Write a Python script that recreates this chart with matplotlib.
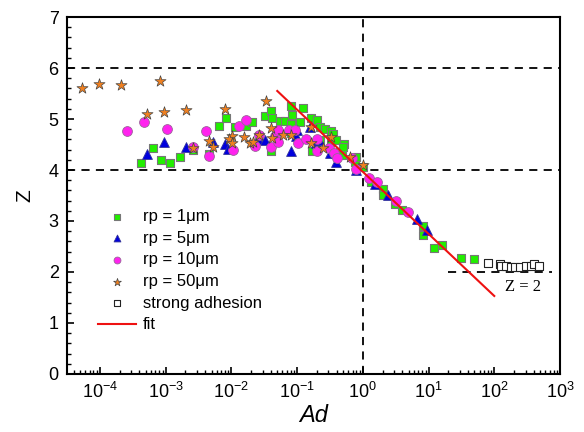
import matplotlib.pyplot as plt
import numpy as np

plt.rcParams['font.family'] = ['Liberation Sans', 'DejaVu Sans']
plt.rcParams['mathtext.fontset'] = 'custom'
plt.rcParams['mathtext.rm'] = 'Liberation Sans'
plt.rcParams['mathtext.it'] = 'Liberation Sans:italic'

# log10(Ad) and Z for each series
lg_1um = [-3.38, -3.19, -3.07, -2.93, -2.78, -2.59, -2.34, -2.19, -2.08, -1.95, -1.78, -1.68,
          -1.58, -1.49, -1.39, -1.38, -1.39, -1.26, -1.19, -1.09, -1.08, -1.09, -1.09, -0.95,
          -0.91, -0.79, -0.78, -0.70, -0.65, -0.58, -0.49, -0.45, -0.65, -0.48, -0.41, -0.29,
          -0.30, -0.32, -0.12, -0.10, 0.00, 0.13, 0.30, 0.31, 0.49, 0.60, 0.91, 0.91, 1.08,
          1.20, 1.50, 1.69]
z_1um = [4.13, 4.44, 4.20, 4.14, 4.25, 4.39, 4.32, 4.87, 5.01, 4.85, 4.86, 4.94,
         4.67, 5.06, 5.16, 5.01, 4.38, 4.97, 4.97, 5.25, 5.08, 4.90, 4.72, 4.95,
         5.22, 5.01, 4.37, 4.99, 4.85, 4.80, 4.76, 4.71, 4.59, 4.55, 4.59, 4.51,
         4.46, 4.29, 4.16, 4.26, 4.06, 3.77, 3.62, 3.51, 3.33, 3.22, 2.90, 2.72, 2.48,
         2.53, 2.28, 2.25]

lg_5um = [-3.28, -3.03, -2.69, -2.28, -2.09, -2.05, -1.59, -1.49, -1.34, -1.09, -1.00, -1.02,
          -0.81, -0.71, -0.66, -0.50, -0.40, -0.40, -0.11, 0.18, 0.39, 0.82, 0.98]
z_5um = [4.31, 4.54, 4.45, 4.54, 4.51, 4.41, 4.60, 4.59, 4.69, 4.38, 4.78, 4.66,
         4.85, 4.52, 4.59, 4.33, 4.34, 4.16, 4.00, 3.72, 3.51, 3.03, 2.82]

lg_10um = [-3.58, -3.33, -2.98, -2.58, -2.39, -2.34, -1.98, -1.88, -1.78, -1.64, -1.58, -1.39,
           -1.34, -1.29, -1.29, -1.12, -1.03, -0.99, -0.87, -0.69, -0.69, -0.51, -0.44, -0.39,
           -0.17, -0.10, 0.10, 0.21, 0.51, 0.69]
z_10um = [4.77, 4.95, 4.81, 4.46, 4.77, 4.28, 4.40, 4.86, 4.98, 4.47, 4.69, 4.46,
          4.67, 4.79, 4.55, 4.79, 4.78, 4.52, 4.61, 4.61, 4.38, 4.44, 4.33, 4.23,
          4.23, 4.01, 3.84, 3.77, 3.40, 3.18]

lg_50um = [-4.27, -4.02, -3.68, -3.08, -3.28, -3.03, -2.69, -2.09, -1.48, -2.59, -2.34, -2.28,
           -1.99, -2.04, -1.99, -1.81, -1.72, -1.67, -1.58, -1.39, -1.38, -1.21, -1.09, -0.79,
           -0.79, -0.60, -0.49, -0.19, 0.00]
z_50um = [5.61, 5.69, 5.67, 5.75, 5.10, 5.13, 5.17, 5.20, 5.35, 4.44, 4.57, 4.46,
          4.66, 4.60, 4.52, 4.64, 4.52, 4.55, 4.69, 4.83, 4.62, 4.68, 4.69, 4.85,
          4.53, 4.44, 4.64, 4.25, 4.10]

lg_strong = [1.90, 2.08, 2.11, 2.18, 2.26, 2.32, 2.39, 2.49, 2.56, 2.60, 2.68]
z_strong = [2.18, 2.16, 2.12, 2.12, 2.10, 2.10, 2.10, 2.12, 2.12, 2.16, 2.12]

fit_ad = [0.05, 100]
fit_z = [5.55, 1.53]

fig = plt.figure(figsize=(5.84, 4.32), dpi=100)
ax = fig.add_axes([0.1147, 0.1343, 0.8442, 0.8263])

dash = (0, (4.5, 3.5))
ax.axhline(6, color='black', lw=1.3, ls=dash, zorder=1)
ax.axhline(4, color='black', lw=1.3, ls=dash, zorder=1)
ax.axvline(1, color='black', lw=1.3, ls=dash, zorder=1)
ax.plot([20, 750], [2, 2], color='black', lw=1.3, ls=dash, zorder=1)

ax.scatter(10**np.array(lg_1um), z_1um, marker='s', s=36, c='#22ee00', edgecolors='#777777',
           linewidths=0.8, label='rp = 1\u03bcm', zorder=3)
ax.scatter(10**np.array(lg_5um), z_5um, marker='^', s=50, c='#0000dd', edgecolors='#333399',
           linewidths=0.6, label='rp = 5\u03bcm', zorder=3)
ax.scatter(10**np.array(lg_10um), z_10um, marker='o', s=50, c='#ff22ee', edgecolors='#996699',
           linewidths=0.6, label='rp = 10\u03bcm', zorder=3)
ax.scatter(10**np.array(lg_50um), z_50um, marker='*', s=70, c='#f08020', edgecolors='#444444',
           linewidths=0.5, label='rp = 50\u03bcm', zorder=3)
ax.scatter(10**np.array(lg_strong), z_strong, marker='s', s=30, facecolors='white',
           edgecolors='#222222', linewidths=0.8, label='strong adhesion', zorder=3)
ax.plot(fit_ad, fit_z, color='#ee1111', lw=1.5, label='fit', zorder=4)

ax.text(270, 1.70, 'Z = 2', family='Liberation Serif', fontsize=12, ha='center', va='center')

ax.set_xscale('log')
ax.set_xlim(10**-4.5, 1e3)
ax.set_ylim(0, 7)
ax.set_yticks(range(8))
ax.set_yticks(np.arange(0, 7.01, 0.2), minor=True)
ax.set_xticks([1e-4, 1e-3, 1e-2, 1e-1, 1, 1e1, 1e2, 1e3])
ax.tick_params(which='both', direction='in', labelsize=13)
ax.tick_params(which='major', length=5, width=1.2, pad=6)
ax.tick_params(which='minor', length=3, width=1)
for sp in ax.spines.values():
    sp.set_linewidth(1.5)

ax.set_xlabel('Ad', fontsize=17, style='italic', labelpad=1)
ax.set_ylabel('Z', fontsize=15, labelpad=10)

ax.legend(loc='upper left', bbox_to_anchor=(0.063, 0.462), frameon=False, fontsize=12,
          borderaxespad=0, borderpad=0, handlelength=2.3, handletextpad=0.4,
          labelspacing=0.4, markerscale=0.7)

plt.savefig('out.png', dpi=100)
